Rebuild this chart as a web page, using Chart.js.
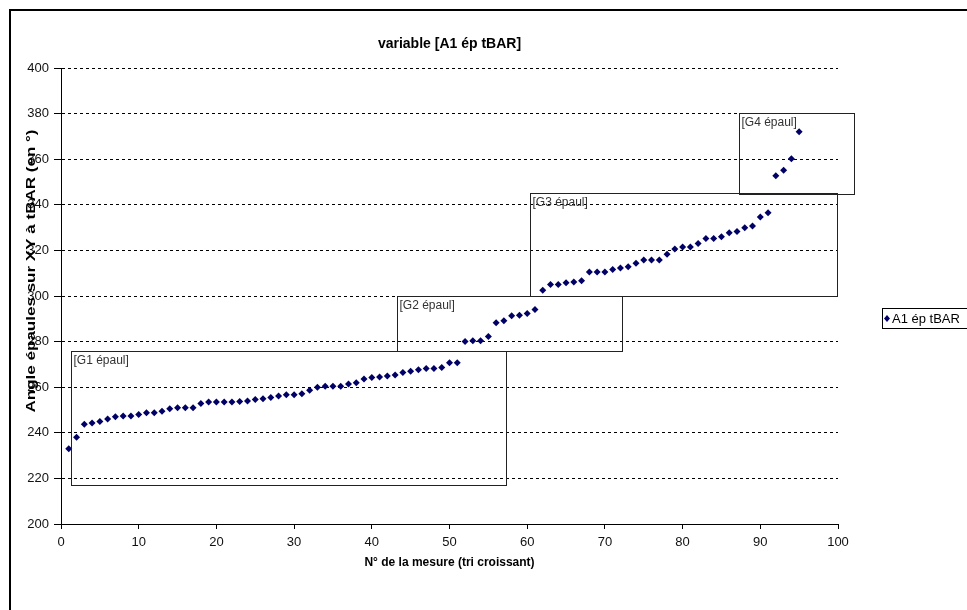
<!DOCTYPE html>
<html>
<head>
<meta charset="utf-8">
<script src="https://cdn.jsdelivr.net/npm/chart.js@4/dist/chart.umd.min.js"></script>
<style>
  html, body { margin: 0; padding: 0; background: #fff; }
  canvas { display: block; }
</style>
</head>
<body>
<canvas id="myChart" width="967" height="610"></canvas>
<script>
// N° de la mesure (tri croissant)
const mesures = [];
for (let i = 1; i <= 95; i++) mesures.push(i);

// Angle épaules sur XY à tBAR, valeurs triées
const angles = [
  233, 238, 243.7, 244.3, 245, 246, 247, 247.4, 247.4, 248,
  248.8, 248.8, 249.4, 250.6, 251, 251, 251, 252.9, 253.5, 253.5,
  253.5, 253.5, 253.7, 254, 254.6, 254.9, 255.5, 256.1, 256.7, 256.7,
  257.1, 258.7, 260, 260.4, 260.4, 260.4, 261.4, 261.9, 263.6, 264.2,
  264.5, 264.9, 265.3, 266.5, 267, 267.6, 268.2, 268.2, 268.6, 270.7,
  270.7, 280, 280.4, 280.4, 282.2, 288.3, 289.1, 291.3, 291.6, 292.3,
  294.1, 302.5, 305, 305, 305.8, 306.1, 306.7, 310.5, 310.5, 310.5,
  311.6, 312.3, 312.8, 314.4, 315.8, 315.8, 315.8, 318.3, 320.6, 321.5,
  321.5, 323, 325.2, 325.2, 326, 327.7, 328.3, 329.9, 330.7, 334.6,
  336.5, 352.7, 355.2, 360.2, 372
];

const serieNom = 'A1 ép tBAR';
const titreY = 'Angle épaules sur XY à tBAR (en °)';

// groupes : étiquette et bornes (en valeurs des axes)
const groupes = ['[G1 épaul]', '[G2 épaul]', '[G3 épaul]', '[G4 épaul]'];
const groupesX = [[1.25, 57.3], [43.2, 72.2], [60.4, 99.9], [87.2, 102]];
const groupesY = [[217.1, 275.9], [275.9, 300], [300, 345], [344.7, 380.1]];

const police = '"Liberation Sans", Arial, sans-serif';

const cadrePlugin = {
  id: 'cadre',
  beforeDraw(chart) {
    const ctx = chart.ctx;
    ctx.save();
    ctx.fillStyle = '#fff';
    ctx.fillRect(0, 0, chart.width, chart.height);
    ctx.strokeStyle = '#000';
    ctx.lineWidth = 2;
    ctx.beginPath();
    ctx.moveTo(10, chart.height + 5);
    ctx.lineTo(10, 10);
    ctx.lineTo(chart.width + 5, 10);
    ctx.stroke();
    ctx.restore();
  },
  afterDraw(chart) {
    const ctx = chart.ctx;
    const xs = chart.scales.x, ys = chart.scales.y;
    ctx.save();
    // boites des groupes
    ctx.font = '12px ' + police;
    ctx.textBaseline = 'top';
    ctx.textAlign = 'left';
    groupes.forEach((g, i) => {
      const x1 = Math.round(xs.getPixelForValue(groupesX[i][0])) + 0.5;
      const x2 = Math.round(xs.getPixelForValue(groupesX[i][1])) + 0.5;
      const y1 = Math.round(ys.getPixelForValue(groupesY[i][1])) + 0.5;
      const y2 = Math.round(ys.getPixelForValue(groupesY[i][0])) + 0.5;
      ctx.strokeStyle = '#222';
      ctx.lineWidth = 1;
      ctx.strokeRect(x1, y1, x2 - x1, y2 - y1);
      ctx.fillStyle = '#333';
      ctx.fillText(g, x1 + 2, y1 + 3);
    });

    // titre de l'axe vertical
    ctx.fillStyle = '#000';
    ctx.font = 'bold 13px ' + police;
    ctx.textAlign = 'center';
    ctx.textBaseline = 'middle';
    const w = ctx.measureText(titreY).width;
    ctx.save();
    ctx.translate(31, 271);
    ctx.rotate(-Math.PI / 2);
    ctx.scale(283 / w, 1);
    ctx.fillText(titreY, 0, 0);
    ctx.restore();

    // légende
    ctx.strokeStyle = '#000';
    ctx.lineWidth = 1;
    ctx.strokeRect(882.5, 308.5, 100, 20);
    ctx.fillStyle = '#000066';
    ctx.beginPath();
    ctx.moveTo(887, 315);
    ctx.lineTo(890, 318.5);
    ctx.lineTo(887, 322);
    ctx.lineTo(884, 318.5);
    ctx.closePath();
    ctx.fill();
    ctx.fillStyle = '#000';
    ctx.font = '13px ' + police;
    ctx.textAlign = 'left';
    ctx.fillText(serieNom, 892, 319);
    ctx.restore();
  }
};

const ctx1 = document.getElementById('myChart');

const config1 = {
  type: 'scatter',
  data: {
    datasets: [{
      label: serieNom,
      data: mesures.map((m, i) => ({ x: m, y: angles[i] })),
      pointStyle: 'rectRot',
      pointRadius: 3.5,
      pointHoverRadius: 3.5,
      backgroundColor: '#000066',
      borderColor: '#000066',
      borderWidth: 0
    }]
  },
  options: {
    responsive: false,
    animation: false,
    layout: { padding: { left: 0, right: 129, top: 0, bottom: 0 } },
    plugins: {
      legend: { display: false },
      tooltip: { enabled: false },
      title: {
        display: true,
        fullSize: false,
        text: 'variable [A1 ép tBAR]',
        color: '#000',
        font: { family: police, size: 14, weight: 'bold', lineHeight: 1.2 },
        padding: { top: 35.6, bottom: 15.6 }
      }
    },
    scales: {
      x: {
        type: 'linear',
        min: 0,
        max: 100,
        afterFit: s => { s.height = 86; },
        ticks: { stepSize: 10, color: '#111', padding: 6, font: { family: police, size: 13 } },
        grid: { drawOnChartArea: false, drawTicks: true, tickLength: 5, tickColor: '#000' },
        border: { color: '#000', width: 1 },
        title: {
          display: true,
          text: 'N° de la mesure (tri croissant)',
          color: '#000',
          font: { family: police, size: 12, weight: 'bold', lineHeight: 1.2 },
          padding: { top: 0, bottom: 39.8 }
        }
      },
      y: {
        min: 200,
        max: 400,
        afterFit: s => { s.width = 61; },
        ticks: { stepSize: 20, color: '#111', padding: 5, font: { family: police, size: 13 } },
        grid: { color: '#000', lineWidth: 1, tickLength: 7, tickColor: '#000', tickBorderDash: [] },
        border: { color: '#000', width: 1, dash: [3, 3] }
      }
    }
  },
  plugins: [cadrePlugin]
};

new Chart(ctx1, config1);
</script>
</body>
</html>
